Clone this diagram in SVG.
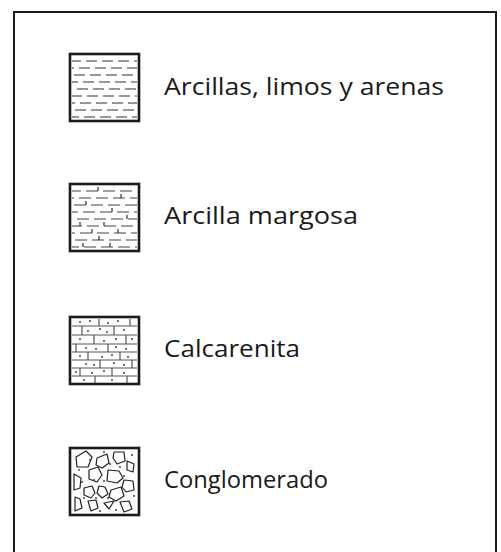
<svg xmlns="http://www.w3.org/2000/svg" width="501" height="552" viewBox="0 0 501 552">
<style>
.frame{fill:none;stroke:#1a1a1a;stroke-width:2}
.sw{fill:#fff;stroke:#1a1a1a;stroke-width:2.6}
.dash{stroke:#777;stroke-width:1.3;stroke-dasharray:11 5}
.dash2{stroke:#444;stroke-width:1.2;stroke-dasharray:12 5}
.tick{stroke:#333;stroke-width:1.2}
.brick{stroke:#555;stroke-width:1.2;fill:none}
.dot{fill:#333}
.peb{fill:none;stroke:#222;stroke-width:1.2;stroke-linejoin:round}
.lbl{font-family:"Open Sans","Noto Sans","Liberation Sans",sans-serif;font-size:23px;fill:#1a1a1a}
</style>
<rect width="501" height="552" fill="#fff"/>
<rect class="frame" x="14" y="12" width="482" height="560"/>

<g id="arcillas">
<rect class="sw" x="70" y="54" width="69" height="67"/>
<g class="dash">
<line x1="72" y1="61" x2="137" y2="61" stroke-dashoffset="2"/>
<line x1="72" y1="68" x2="137" y2="68" stroke-dashoffset="9"/>
<line x1="72" y1="75" x2="137" y2="75" stroke-dashoffset="14"/>
<line x1="72" y1="82" x2="137" y2="82" stroke-dashoffset="5"/>
<line x1="72" y1="89" x2="137" y2="89" stroke-dashoffset="11"/>
<line x1="72" y1="96" x2="137" y2="96" stroke-dashoffset="1"/>
<line x1="72" y1="103" x2="137" y2="103" stroke-dashoffset="8"/>
<line x1="72" y1="110" x2="137" y2="110" stroke-dashoffset="13"/>
<line x1="72" y1="117" x2="137" y2="117" stroke-dashoffset="4"/>
</g>
<text class="lbl" x="164" y="95" textLength="280" lengthAdjust="spacingAndGlyphs">Arcillas, limos y arenas</text>
</g>

<g id="margosa">
<rect class="sw" x="70" y="184" width="69" height="67"/>
<g class="dash2">
<line x1="72" y1="191" x2="137" y2="191" stroke-dashoffset="3"/>
<line x1="72" y1="198" x2="137" y2="198" stroke-dashoffset="10"/>
<line x1="72" y1="205" x2="137" y2="205" stroke-dashoffset="15"/>
<line x1="72" y1="212" x2="137" y2="212" stroke-dashoffset="6"/>
<line x1="72" y1="219" x2="137" y2="219" stroke-dashoffset="12"/>
<line x1="72" y1="226" x2="137" y2="226" stroke-dashoffset="2"/>
<line x1="72" y1="233" x2="137" y2="233" stroke-dashoffset="9"/>
<line x1="72" y1="240" x2="137" y2="240" stroke-dashoffset="14"/>
<line x1="72" y1="247" x2="137" y2="247" stroke-dashoffset="5"/>
</g>
<path class="tick" d="M98 187v4M121 194v4M86 201v4M112 208v4M127 215v4M80 222v4M104 222v4M92 229v4M118 229v4M99 236v4M83 243v4M110 243v4"/>
<text class="lbl" x="164" y="224" textLength="194" lengthAdjust="spacingAndGlyphs">Arcilla margosa</text>
</g>

<g id="calcarenita">
<rect class="sw" x="70" y="317" width="69" height="67"/>
<path class="brick" d="M72 326H137M72 335H137M72 344H137M72 352H137M72 360H137M72 368H137M72 376H137
M99 319v7M130 319v7M82 326v9M114 326v9M94 335v9M126 335v9M76 344v8M108 344v8M88 352v8M120 352v8M100 360v8M132 360v8M80 368v8M112 368v8M95 376v7M127 376v7"/>
<g class="dot">
<circle cx="80" cy="322" r="0.9"/><circle cx="90" cy="321" r="0.9"/><circle cx="108" cy="323" r="0.9"/><circle cx="118" cy="321" r="0.9"/>
<circle cx="88" cy="331" r="0.9"/><circle cx="100" cy="329" r="0.9"/><circle cx="107" cy="332" r="0.9"/><circle cx="124" cy="330" r="0.9"/>
<circle cx="80" cy="339" r="0.9"/><circle cx="104" cy="341" r="0.9"/><circle cx="116" cy="339" r="0.9"/><circle cx="132" cy="339" r="0.9"/>
<circle cx="86" cy="348" r="0.9"/><circle cx="96" cy="349" r="0.9"/><circle cx="116" cy="347" r="0.9"/><circle cx="126" cy="349" r="0.9"/>
<circle cx="80" cy="356" r="0.9"/><circle cx="102" cy="357" r="0.9"/><circle cx="112" cy="355" r="0.9"/><circle cx="128" cy="357" r="0.9"/>
<circle cx="86" cy="364" r="0.9"/><circle cx="94" cy="365" r="0.9"/><circle cx="114" cy="363" r="0.9"/><circle cx="124" cy="365" r="0.9"/>
<circle cx="76" cy="372" r="0.9"/><circle cx="92" cy="373" r="0.9"/><circle cx="104" cy="371" r="0.9"/><circle cx="124" cy="373" r="0.9"/>
<circle cx="84" cy="380" r="0.9"/><circle cx="112" cy="380" r="0.9"/>
</g>
<text class="lbl" x="164" y="357" textLength="136" lengthAdjust="spacingAndGlyphs">Calcarenita</text>
</g>

<g id="conglomerado">
<rect class="sw" x="70" y="448" width="69" height="67"/>
<g class="peb">
<path d="M76 457l10-6 6 6-4 10-11 0z"/>
<path d="M97 458l10-4 2 9-7 5-6-3z"/>
<path d="M114 452l10 0 1 9-8 3-4-6z"/>
<path d="M127 461l7 3-1 8-6-2z"/>
<path d="M89 470l9-3 4 8-5 7-8-3z"/>
<path d="M108 470l11 1 4 7-6 5-10-2z"/>
<path d="M74 474l7 4-1 10-6 2z"/>
<path d="M124 480l9 1 1 9-8 2-4-5z"/>
<path d="M84 488l8-2 3 7-4 5-7-3z"/>
<path d="M99 486l6 1 3 7-6 4-5-5z"/>
<path d="M111 490l10-3 3 9-8 5-7-4z"/>
<path d="M75 497l5 2 2 9-7 3z"/>
<path d="M88 501l8-1 2 8-7 3z"/>
<path d="M104 503l10-2-5 8z"/>
<path d="M120 502l9-1 3 8-8 3z"/>
</g>
<g class="dot">
<circle cx="90" cy="460" r="0.9"/><circle cx="110" cy="464" r="0.9"/><circle cx="132" cy="455" r="0.9"/><circle cx="82" cy="482" r="0.9"/><circle cx="104" cy="481" r="0.9"/><circle cx="120" cy="467" r="0.9"/><circle cx="96" cy="498" r="0.9"/><circle cx="79" cy="470" r="0.9"/><circle cx="134" cy="496" r="0.9"/><circle cx="84" cy="498" r="0.9"/><circle cx="116" cy="510" r="0.9"/><circle cx="100" cy="511" r="0.9"/><circle cx="104" cy="452" r="0.9"/><circle cx="124" cy="476" r="0.9"/><circle cx="108" cy="498" r="0.9"/><circle cx="94" cy="480" r="0.9"/>
</g>
<text class="lbl" x="164" y="488" textLength="164" lengthAdjust="spacingAndGlyphs">Conglomerado</text>
</g>
</svg>
